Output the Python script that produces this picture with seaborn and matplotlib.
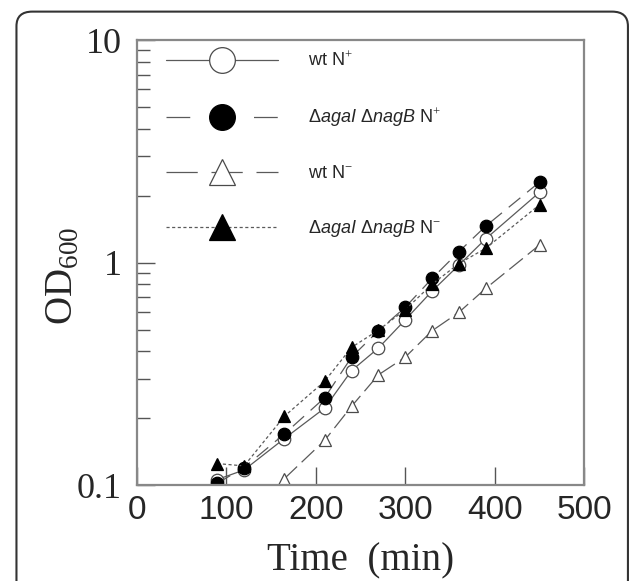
import matplotlib
matplotlib.use("Agg")
import matplotlib.pyplot as plt
from matplotlib.lines import Line2D
from matplotlib.patches import FancyBboxPatch
import seaborn as sns
import pandas as pd

# ---- data ----
time_wt_np = [90, 120, 165, 210, 240, 270, 300, 330, 360, 390, 450]
od_wt_np = [0.106, 0.117, 0.162, 0.222, 0.327, 0.413, 0.553, 0.745, 0.975, 1.28, 2.07]

time_mut_np = [90, 120, 165, 210, 240, 270, 300, 330, 360, 390, 450]
od_mut_np = [0.102, 0.120, 0.170, 0.247, 0.376, 0.494, 0.630, 0.849, 1.12, 1.46, 2.30]

time_wt_nm = [165, 210, 240, 270, 300, 330, 360, 390, 450]
od_wt_nm = [0.107, 0.159, 0.226, 0.313, 0.376, 0.494, 0.598, 0.766, 1.20]

time_mut_nm = [90, 120, 165, 210, 240, 270, 300, 330, 360, 390, 450]
od_mut_nm = [0.125, 0.122, 0.204, 0.293, 0.416, 0.497, 0.614, 0.800, 0.99, 1.16, 1.82]

labels = [r"wt N$^{+}$",
          r"Δ$\it{agaI}$ Δ$\it{nagB}$ N$^{+}$",
          r"wt N$^{-}$",
          r"Δ$\it{agaI}$ Δ$\it{nagB}$ N$^{-}$"]
x_ticks = [0, 100, 200, 300, 400, 500]
y_ticks = [0.1, 1, 10]
y_tick_labels = ["0.1", "1", "10"]

# ---- style ----
sns.set_theme(style="ticks")
plt.rcParams["font.family"] = ["Liberation Sans", "DejaVu Sans"]
plt.rcParams["mathtext.fontset"] = "custom"
plt.rcParams["mathtext.rm"] = "Liberation Serif"
plt.rcParams["mathtext.it"] = "Liberation Sans:italic"

LINE = "#5a5a5a"
EDGE = "#4a4a4a"

fig = plt.figure(figsize=(6.33, 5.81), dpi=100)
ax = fig.add_axes([0.216, 0.165, 0.707, 0.766])

series = [
    (time_wt_np, od_wt_np, dict(marker="o", mfc="white", mec=EDGE), "-", "-"),
    (time_mut_np, od_mut_np, dict(marker="o", mfc="black", mec="black"), (0, (12, 7)), (0, (19, 16))),
    (time_wt_nm, od_wt_nm, dict(marker="^", mfc="white", mec=EDGE), (0, (14, 5)), (0, (25, 11))),
    (time_mut_nm, od_mut_nm, dict(marker="^", mfc="black", mec="black"), (0, (2.5, 2)), (0, (2.5, 2))),
]
for (t, v, kw, ls, _), lab in zip(series, labels):
    df = pd.DataFrame({"t": t, "od": v})
    sns.lineplot(data=df, x="t", y="od", ax=ax, color=LINE, lw=0.9, linestyle=ls,
                 markersize=9, mew=0.9, legend=False, **kw)

ax.set_yscale("log")
ax.set_xlim(0, 500)
ax.set_ylim(0.1, 10)
ax.set_xticks(x_ticks)
ax.set_xticklabels([str(v) for v in x_ticks], fontsize=24, family="Liberation Sans")
ax.set_yticks(y_ticks)
ax.set_yticklabels(y_tick_labels, fontsize=26, family="Liberation Serif")
ax.tick_params(axis="x", direction="in", length=13, width=1.0, color="#555", pad=7)
ax.tick_params(axis="y", which="major", direction="in", length=13, width=1.0, color="#555", pad=11)
ax.tick_params(axis="y", which="minor", direction="in", length=9, width=1.0, color="#555")
for s in ax.spines.values():
    s.set_color("#888888")
    s.set_linewidth(1.6)

ax.set_xlabel("Time  (min)", family="Liberation Serif", fontsize=28, labelpad=12)
ax.set_ylabel(r"OD$_{600}$", family="Liberation Serif", fontsize=28)
ax.yaxis.set_label_coords(-0.123, 0.47)

# legend proxies (large markers)
handles = []
for (t, v, kw, _, lls) in series:
    handles.append(Line2D([], [], color=LINE, lw=0.9, linestyle=lls, markersize=18.5, mew=0.9, **kw))
leg = ax.legend(handles, labels, loc="upper left", bbox_to_anchor=(0.065, 0.976),
                borderaxespad=0, borderpad=0, frameon=False, fontsize=13,
                handlelength=6.2, handletextpad=1.67, labelspacing=1.98)

# rounded frame around figure
frame = FancyBboxPatch((0.026, -0.1), 0.966, 1.08, boxstyle="round,pad=0,rounding_size=0.025",
                       transform=fig.transFigure, fill=False, lw=1.5, ec="#333333")
fig.patches.append(frame)

fig.savefig("out.png", dpi=100)
